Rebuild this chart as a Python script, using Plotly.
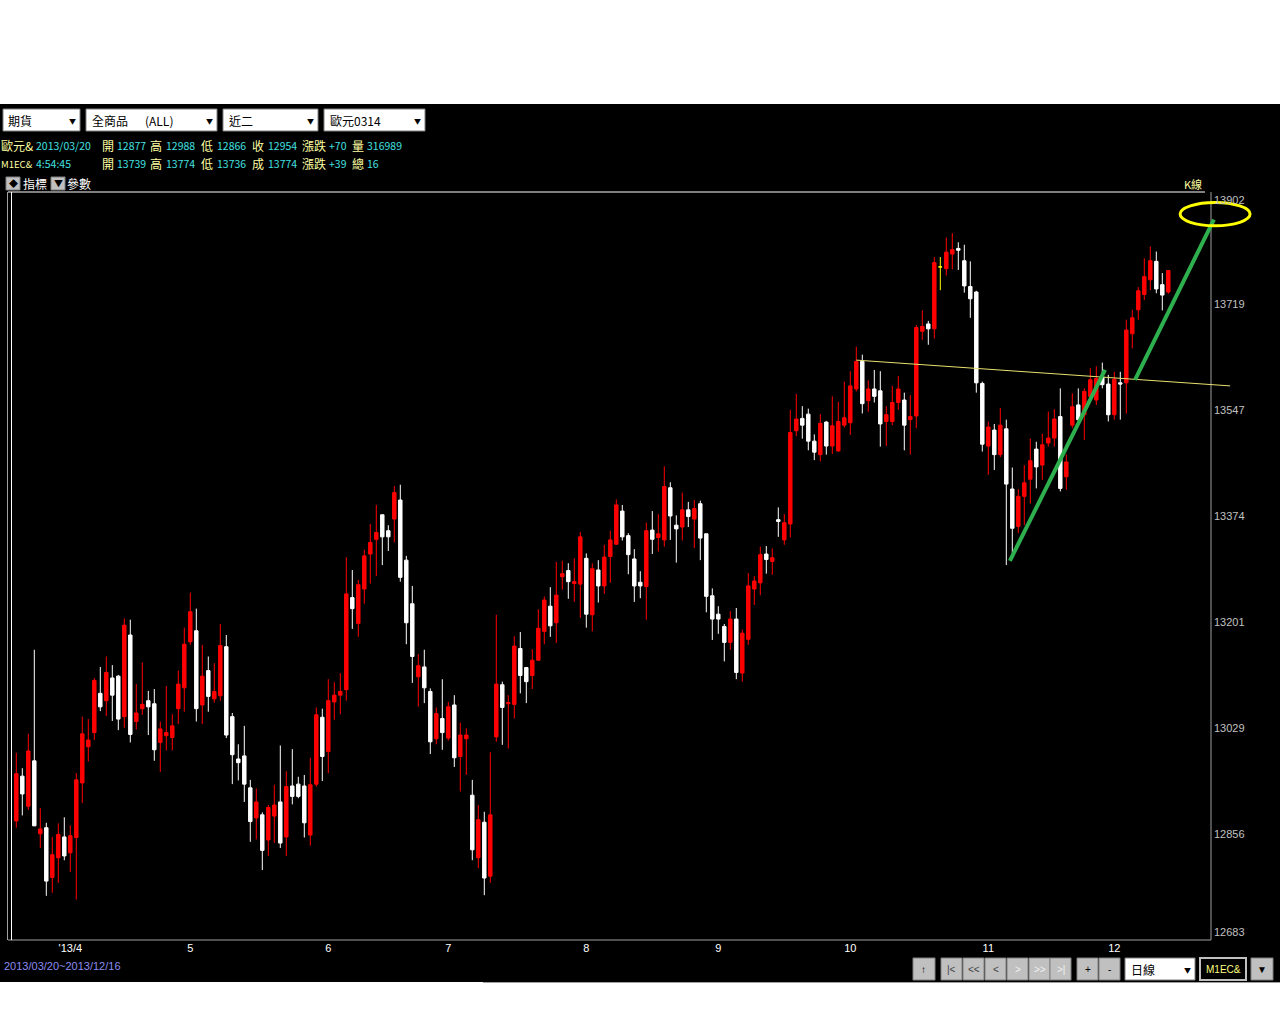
import plotly.graph_objects as go

# ---------------- data ----------------
open_ = [12877,12950,12901,12975,12856,12866,12785,12817,12851,12825,
         12850,12939,12998,13021,13085,13073,13110,13113,13047,13180,
         13039,13060,13073,13068,13005,13016,13013,13060,13094,13169,
         13187,13066,13122,13076,13081,13161,13047,12978,12983,12931,
         12882,12887,12846,12885,12908,12851,12934,12937,12934,12854,
         12937,13046,12990,13071,13082,13091,13241,13199,13255,13312,
         13336,13376,13350,13369,13400,13302,13231,13112,13128,13088,
         13011,13044,13012,13066,12982,13011,12919,12817,12875,12787,
         13014,13099,13068,13067,13158,13127,13114,13139,13186,13227,
         13200,13275,13285,13264,13263,13305,13213,13286,13260,13308,
         13328,13382,13342,13304,13266,13259,13351,13339,13335,13420,
         13359,13356,13384,13369,13394,13345,13244,13214,13194,13168,
         13206,13118,13173,13255,13265,13312,13300,13368,13335,13361,
         13513,13533,13540,13496,13474,13527,13488,13480,13522,13526,
         13581,13626,13562,13581,13578,13528,13528,13559,13563,13531,
         13537,13675,13687,13679,13780,13777,13801,13810,13790,13748,
         13739,13590,13488,13514,13474,13516,13418,13357,13406,13434,
         13483,13457,13493,13501,13536,13438,13522,13555,13539,13569,
         13563,13601,13589,13539,13591,13591,13671,13710,13735,13759,
         13789,13751,13739]
high = [12988,12963,13019,13156,12898,12874,12851,12873,12883,12870,
        12955,13047,13043,13110,13128,13145,13131,13115,13207,13205,
        13100,13135,13089,13092,13039,13097,13051,13122,13192,13249,
        13223,13164,13145,13134,13198,13180,13053,13002,13032,12944,
        12930,12891,12903,12936,13000,12958,12994,12949,12952,12980,
        13062,13060,13108,13103,13118,13307,13286,13270,13319,13361,
        13392,13376,13359,13423,13425,13309,13260,13149,13156,13093,
        13062,13108,13071,13082,13037,13028,12944,12903,12892,12989,
        13213,13104,13082,13178,13185,13128,13157,13222,13243,13258,
        13299,13301,13297,13305,13348,13313,13297,13302,13327,13350,
        13401,13392,13346,13320,13284,13363,13382,13377,13455,13429,
        13375,13412,13397,13400,13399,13345,13256,13227,13198,13219,
        13224,13189,13281,13276,13324,13325,13321,13388,13377,13547,
        13573,13553,13549,13507,13540,13529,13569,13560,13593,13610,
        13650,13637,13595,13612,13610,13553,13586,13602,13575,13571,
        13685,13709,13692,13796,13796,13828,13835,13820,13816,13789,
        13741,13593,13528,13524,13550,13531,13453,13418,13457,13500,
        13495,13508,13544,13548,13582,13474,13574,13582,13582,13615,
        13618,13624,13604,13609,13609,13694,13710,13747,13794,13813,
        13805,13770,13774]
low = [12866,12886,12895,12869,12833,12755,12760,12776,12813,12794,
       12749,12906,12974,13009,13056,13048,13040,13025,13029,13005,
       13026,13050,13017,12975,12957,12992,12992,13035,13055,13164,
       13039,13035,13055,13070,13073,13012,12937,12943,12908,12843,
       12847,12797,12820,12841,12833,12820,12904,12914,12850,12837,
       12933,12942,12955,13042,13051,13073,13190,13177,13231,13264,
       13276,13294,13317,13331,13267,13165,13102,13063,13069,12986,
       13002,12993,13008,12965,12925,12952,12813,12800,12756,12776,
       13006,13001,12995,13044,13085,13069,13092,13138,13165,13177,
       13167,13254,13239,13234,13208,13192,13186,13233,13247,13265,
       13327,13334,13279,13234,13240,13205,13312,13316,13324,13335,
       13298,13334,13356,13322,13302,13217,13172,13182,13137,13156,
       13108,13104,13164,13229,13245,13280,13278,13340,13327,13339,
       13504,13500,13481,13465,13463,13474,13475,13479,13518,13506,
       13577,13541,13544,13559,13487,13488,13522,13547,13481,13474,
       13517,13661,13653,13663,13742,13766,13776,13775,13738,13697,
       13575,13479,13441,13449,13470,13294,13313,13346,13359,13394,
       13419,13433,13487,13487,13414,13417,13517,13522,13498,13563,
       13555,13582,13528,13531,13531,13541,13647,13694,13726,13742,
       13737,13709,13736]
close = [12954,12921,12991,12869,12864,12779,12822,12855,12820,12853,
         12944,13019,13009,13106,13063,13119,13082,13043,13196,13018,
         13053,13067,13063,12993,13027,13021,13032,13100,13165,13218,
         13060,13113,13080,13088,13163,13017,12985,12972,12937,12876,
         12908,12829,12899,12903,12841,12933,12917,12917,12874,12936,
         13050,12982,13073,13082,13088,13247,13223,13262,13309,13331,
         13347,13340,13340,13412,13274,13200,13145,13130,13094,13006,
         13052,13021,13063,12980,13017,13017,12830,12879,12784,12887,
         13100,13062,13070,13162,13114,13104,13139,13191,13237,13195,
         13245,13280,13267,13267,13340,13214,13288,13260,13307,13335,
         13392,13340,13311,13260,13260,13350,13336,13345,13422,13374,
         13353,13384,13373,13386,13338,13243,13206,13206,13168,13206,
         13119,13183,13260,13268,13311,13303,13306,13365,13363,13510,
         13532,13522,13496,13478,13525,13488,13521,13528,13534,13586,
         13626,13557,13581,13569,13524,13539,13559,13581,13522,13536,
         13681,13683,13679,13787,13780,13804,13808,13807,13749,13728,
         13591,13491,13519,13474,13522,13426,13354,13406,13428,13464,
         13454,13490,13501,13532,13419,13462,13552,13531,13577,13596,
         13598,13588,13539,13597,13589,13677,13697,13741,13764,13790,
         13744,13734,13774]
doji_idx = [154]                      # drawn in yellow (open == close)

month_labels = ["'13/4", "5", "6", "7", "8", "9", "10", "11", "12"]
month_idx = [9, 29, 52, 72, 95, 117, 139, 162, 183]
ytick_vals = [12683, 12856, 13029, 13201, 13374, 13547, 13719, 13902]

symbol = "歐元&amp;"
date0 = "2013/03/20"
change0 = "+70"
volume0 = 316989
rt_symbol = "M1EC&amp;"
rt_time = "4:54:45"
rt_change = "+39"
rt_total = 16
date_range = "2013/03/20~2013/12/16"

# hand-drawn chart marks (candle index, price)
neckline = (140, 13628, 202.3, 13586)
rise1 = (165.6, 13301, 181.45, 13612)
rise2 = (186.45, 13596, 199.6, 13857)
target = (199.8, 13866, 5.83, 19)

# ---------------- geometry ----------------
W, H = 1280, 1024
ML, MR, MT, MB = 8, 69, 192, 84
PW, PH = W - ML - MR, H - MT - MB
XMIN, XMAX = -1.383, 199.117
YMIN, YMAX = ytick_vals[0], ytick_vals[-1]


def px(x):
    return (x - ML) / PW


def py(y):
    return (H - MB - y) / PH


def ix(i):
    return (i - XMIN) / (XMAX - XMIN)


CJK = "Noto Sans CJK TC"
NUM = "Liberation Sans, Arial, sans-serif"
LAB = "#ffffa0"
VAL = "#40e0e0"

idx = list(range(len(open_)))
m_o = [None if i in doji_idx else v for i, v in enumerate(open_)]
m_h = [None if i in doji_idx else v for i, v in enumerate(high)]
m_l = [None if i in doji_idx else v for i, v in enumerate(low)]
m_c = [None if i in doji_idx else v for i, v in enumerate(close)]

fig = go.Figure()
fig.add_trace(go.Candlestick(
    x=idx, open=m_o, high=m_h, low=m_l, close=m_c,
    increasing=dict(line=dict(color="#ff0000", width=1), fillcolor="#ff0000"),
    decreasing=dict(line=dict(color="#ffffff", width=1), fillcolor="#ffffff"),
    whiskerwidth=0, hoverinfo="skip", showlegend=False))
fig.add_trace(go.Candlestick(
    x=doji_idx, open=[open_[i] for i in doji_idx], high=[high[i] for i in doji_idx],
    low=[low[i] for i in doji_idx], close=[close[i] for i in doji_idx],
    increasing=dict(line=dict(color="#ffff00", width=1), fillcolor="#ffff00"),
    decreasing=dict(line=dict(color="#ffff00", width=1), fillcolor="#ffff00"),
    whiskerwidth=0, hoverinfo="skip", showlegend=False))

shapes = []
ann = []

# black application panel
shapes.append(dict(type="rect", xref="paper", yref="paper", x0=px(0), x1=px(1280),
                   y0=py(982), y1=py(104), fillcolor="#000000", line=dict(width=0), layer="below"))
shapes.append(dict(type="line", xref="paper", yref="paper", x0=px(483), x1=px(1280),
                   y0=py(982.5), y1=py(982.5), line=dict(color="#a0a0a0", width=1), layer="below"))
# plot frame
shapes.append(dict(type="line", xref="paper", yref="paper", x0=px(8), x1=px(1205),
                   y0=py(192), y1=py(192), line=dict(color="#ffffff", width=1), layer="below"))
shapes.append(dict(type="line", xref="paper", yref="paper", x0=px(1211), x1=px(1211),
                   y0=py(192), y1=py(940), line=dict(color="#a0a0a0", width=1), layer="below"))
shapes.append(dict(type="line", xref="paper", yref="paper", x0=px(8), x1=px(1211),
                   y0=py(940), y1=py(940), line=dict(color="#a0a0a0", width=1), layer="below"))
shapes.append(dict(type="line", xref="paper", yref="paper", x0=px(7.5), x1=px(7.5),
                   y0=py(192), y1=py(940), line=dict(color="#a0a0a0", width=1), layer="below"))
shapes.append(dict(type="line", xref="paper", yref="paper", x0=px(11.5), x1=px(11.5),
                   y0=py(192), y1=py(940), line=dict(color="#ffffff", width=1), layer="below"))

# hand-drawn marks
shapes.append(dict(type="line", xref="paper", yref="y", x0=ix(neckline[0]), y0=neckline[1],
                   x1=ix(neckline[2]), y1=neckline[3], line=dict(color="#e8e070", width=1)))
for seg in (rise1, rise2):
    shapes.append(dict(type="line", xref="paper", yref="y", x0=ix(seg[0]), y0=seg[1],
                       x1=ix(seg[2]), y1=seg[3], line=dict(color="#2fb04f", width=4)))
shapes.append(dict(type="circle", xref="paper", yref="y",
                   x0=ix(target[0] - target[2]), x1=ix(target[0] + target[2]),
                   y0=target[1] - target[3], y1=target[1] + target[3],
                   line=dict(color="#ffff00", width=3)))


def txt(x, y, s, color, size=12, family=CJK, xanchor="left", yanchor="middle", **kw):
    ann.append(dict(x=px(x), y=py(y), xref="paper", yref="paper", text=s, showarrow=False,
                    xanchor=xanchor, yanchor=yanchor, font=dict(color=color, size=size, family=family),
                    **kw))


# drop-down boxes
for x0, x1, parts in [(3, 80, [(6, "期貨")]), (86, 217, [(90, "全商品"), (143, "(ALL)")]),
                      (223, 318, [(227, "近二")]), (324, 425, [(328, "歐元0314")])]:
    shapes.append(dict(type="rect", xref="paper", yref="paper", x0=px(x0), x1=px(x1),
                       y0=py(131), y1=py(109), fillcolor="#ffffff",
                       line=dict(color="#808080", width=1)))
    for tx, t in parts:
        txt(tx, 120, t, "#000000", size=12)
    txt(x1 - 8, 121, "▼", "#000000", size=7, xanchor="center")

# info lines
line1 = [(0, symbol, LAB), (35, date0, VAL), (100, "開", LAB), (116, str(open_[0]), VAL),
         (148, "高", LAB), (165, str(high[0]), VAL), (199, "低", LAB), (216, str(low[0]), VAL),
         (250, "收", LAB), (267, str(close[0]), VAL), (300, "漲跌", LAB), (328, change0, VAL),
         (350, "量", LAB), (366, str(volume0), VAL)]
line2 = [(0, rt_symbol, LAB), (35, rt_time, VAL), (100, "開", LAB), (116, str(open_[-1]), VAL),
         (148, "高", LAB), (165, str(high[-1]), VAL), (199, "低", LAB), (216, str(low[-1]), VAL),
         (250, "成", LAB), (267, str(close[-1]), VAL), (300, "漲跌", LAB), (328, rt_change, VAL),
         (350, "總", LAB), (366, str(rt_total), VAL)]
for yy, line in ((145.5, line1), (163.5, line2)):
    for k, (tx, t, col) in enumerate(line):
        is_cjk = any(ord(ch) > 0x2e80 for ch in t)
        size = 12 if is_cjk else 10.5
        if k == 0 and not is_cjk:
            size = 9.5
        txt(tx - 1 + (1 if is_cjk and k else 0), yy, t, col, size=size, family=CJK)

# indicator / parameter buttons
for x0, sym in ((6, "◆"), (51, "▼")):
    shapes.append(dict(type="rect", xref="paper", yref="paper", x0=px(x0), x1=px(x0 + 14),
                       y0=py(190), y1=py(177), fillcolor="#c0c0c0", line=dict(color="#808080", width=1)))
    txt(x0 + 7, 183.5, sym, "#000000", size=9, xanchor="center")
txt(21, 184, "指標", "#ffffff", size=12)
txt(65, 184, "參數", "#ffffff", size=12)
txt(1204, 184, "K線", LAB, size=11, xanchor="right")

# price labels
for v in ytick_vals:
    ya = "top" if v == YMAX else ("bottom" if v == YMIN else "middle")
    ann.append(dict(x=px(1212), y=v, xref="paper", yref="y", text=str(v), showarrow=False,
                    xanchor="left", yanchor=ya, font=dict(color="#c0c0c0", size=11, family=NUM)))

# footer
txt(2, 966, date_range, "#8c8cf0", size=11, family=NUM)
buttons = [(913, 935, "↑", "#000000"), (941, 962, "|&lt;", "#404040"), (963, 984, "&lt;&lt;", "#404040"),
           (985, 1006, "&lt;", "#404040"), (1007, 1028, "&gt;", "#f0f0f0"), (1029, 1050, "&gt;&gt;", "#f0f0f0"),
           (1050, 1071, "&gt;|", "#f0f0f0"), (1077, 1098, "+", "#000000"), (1099, 1120, "-", "#000000"),
           (1251, 1273, "▼", "#000000")]
for x0, x1, t, col in buttons:
    shapes.append(dict(type="rect", xref="paper", yref="paper", x0=px(x0), x1=px(x1),
                       y0=py(980), y1=py(958), fillcolor="#c0c0c0", line=dict(color="#808080", width=1)))
    txt((x0 + x1) / 2, 969, t, col, size=10, family=NUM, xanchor="center")
shapes.append(dict(type="rect", xref="paper", yref="paper", x0=px(1125), x1=px(1195),
                   y0=py(980), y1=py(958), fillcolor="#ffffff", line=dict(color="#808080", width=1)))
txt(1129, 969, "日線", "#000000", size=12)
txt(1187, 970, "▼", "#000000", size=7, xanchor="center")
shapes.append(dict(type="rect", xref="paper", yref="paper", x0=px(1200), x1=px(1246),
                   y0=py(980), y1=py(958), fillcolor="#000000", line=dict(color="#c0c0c0", width=2)))
txt(1223, 969, rt_symbol, "#ffff80", size=10, family=NUM, xanchor="center")

fig.update_layout(
    width=W, height=H, margin=dict(l=ML, r=MR, t=MT, b=MB, pad=0),
    paper_bgcolor="#ffffff", plot_bgcolor="#000000", showlegend=False, boxgap=0.18,
    xaxis=dict(range=[XMIN, XMAX], tickvals=month_idx, ticktext=month_labels, showgrid=False,
               zeroline=False, showline=False, ticks="", rangeslider=dict(visible=False),
               tickfont=dict(color="#ffffff", size=11, family=NUM), fixedrange=True),
    yaxis=dict(range=[YMIN, YMAX], showgrid=False, zeroline=False, showline=False,
               showticklabels=False, ticks="", fixedrange=True),
    shapes=shapes, annotations=ann)

fig.write_html("out.html", config=dict(displayModeBar=False),
               post_script="document.body.style.margin='0';document.body.style.overflow='hidden';")
